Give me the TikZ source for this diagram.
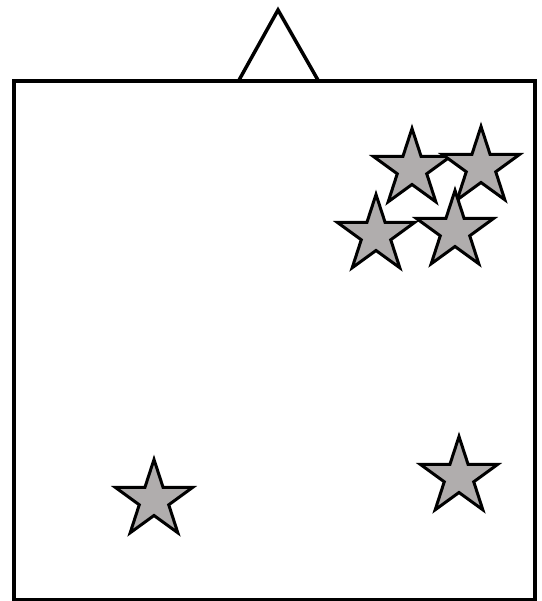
\documentclass[tikz,border=0pt]{standalone}
\definecolor{stargray}{RGB}{176,173,173}
\tikzset{
  frame/.style={draw=black, line width=4pt},
  roof/.style={draw=black, line width=3.5pt, fill=white},
  starfill/.style={draw=black, line width=3pt, fill=stargray, line join=miter},
  pics/gstar/.style={code={
    \path[starfill] (270:40.5) -- (306:15.5) -- (342:40.5) -- (18:15.5) -- (54:40.5)
      -- (90:15.5) -- (126:40.5) -- (162:15.5) -- (198:40.5) -- (234:15.5) -- cycle;
  }}
}
\begin{document}
\begin{tikzpicture}[x=1pt,y=-1pt]
\useasboundingbox (0,0) rectangle (541,601);
\path[roof] (238.5,81) coordinate (tl) -- (278,10) coordinate (apex) -- (318.5,81) coordinate (tr) -- cycle;
\path[frame] (14,81) rectangle (535,599.5);
\pic at (412,169) {gstar};
\pic at (481,167) {gstar};
\pic at (376,235) {gstar};
\pic at (455,231) {gstar};
\pic at (154,500) {gstar};
\pic at (459,477) {gstar};
\end{tikzpicture}
\end{document}
